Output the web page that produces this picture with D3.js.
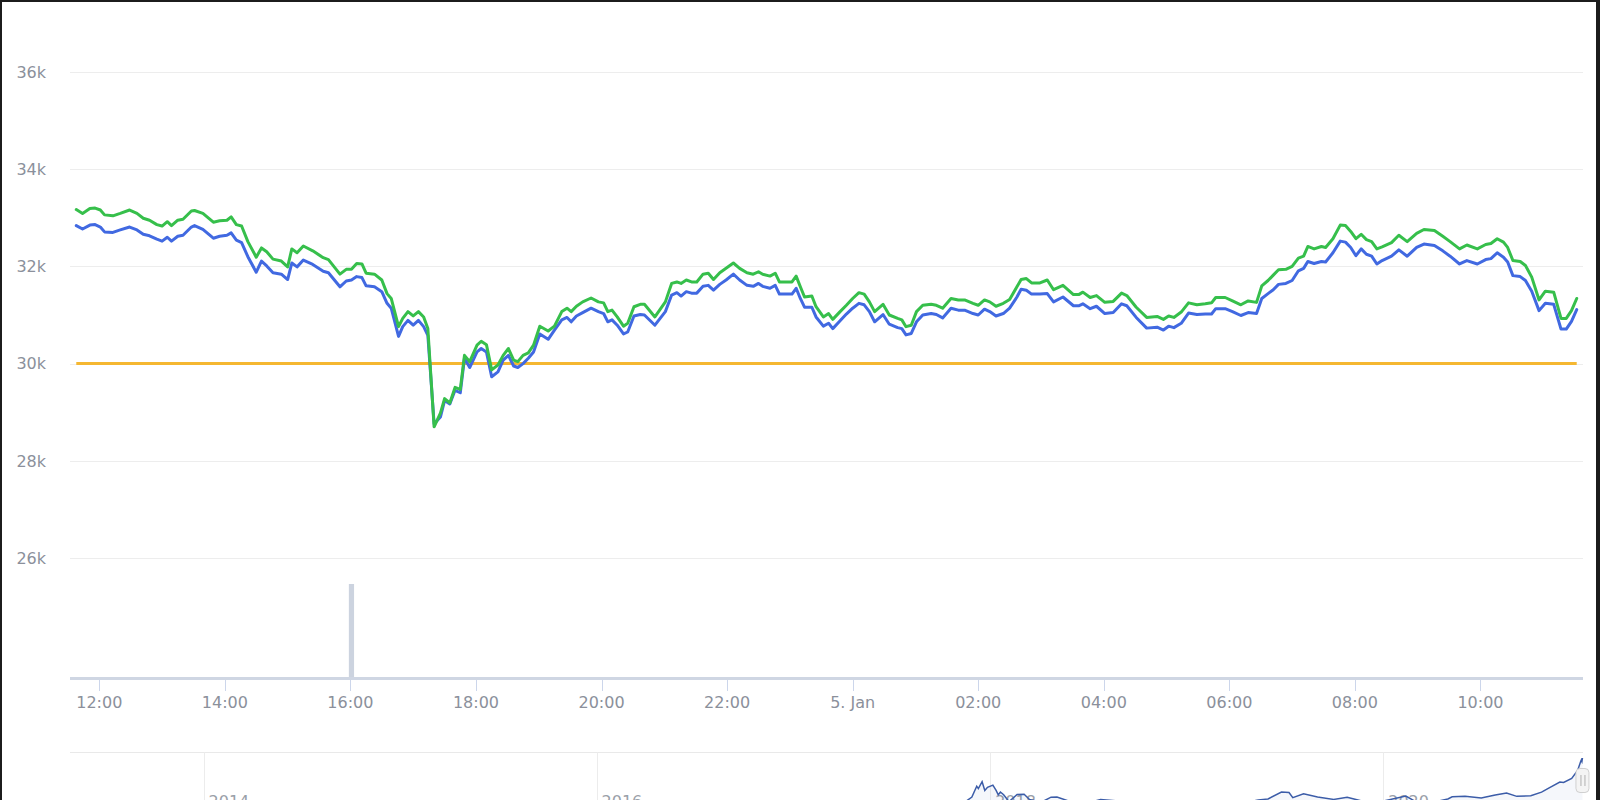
<!DOCTYPE html>
<html><head><meta charset="utf-8">
<script src="https://cdn.jsdelivr.net/npm/d3@7"></script>
<style>html,body{margin:0;padding:0;background:#1c1c1c;overflow:hidden}svg{display:block}</style>
</head><body><svg id="c" width="1600" height="800"></svg>
<script>
// ---- data ----
const times = [
"01-04 11:38","01-04 11:44","01-04 11:51","01-04 11:56","01-04 12:01","01-04 12:05","01-04 12:13","01-04 12:20","01-04 12:29","01-04 12:36",
"01-04 12:42","01-04 12:48","01-04 12:55","01-04 13:00","01-04 13:05","01-04 13:09","01-04 13:15","01-04 13:20","01-04 13:28","01-04 13:31",
"01-04 13:39","01-04 13:49","01-04 13:55","01-04 14:02","01-04 14:06","01-04 14:11","01-04 14:16","01-04 14:22","01-04 14:30","01-04 14:35",
"01-04 14:40","01-04 14:46","01-04 14:54","01-04 15:00","01-04 15:04","01-04 15:09","01-04 15:15","01-04 15:24","01-04 15:34","01-04 15:39",
"01-04 15:50","01-04 15:56","01-04 16:01","01-04 16:06","01-04 16:11","01-04 16:15","01-04 16:23","01-04 16:30","01-04 16:35","01-04 16:39",
"01-04 16:46","01-04 16:50","01-04 16:55","01-04 17:00","01-04 17:05","01-04 17:10","01-04 17:14","01-04 17:20","01-04 17:26","01-04 17:30",
"01-04 17:35","01-04 17:40","01-04 17:45","01-04 17:49","01-04 17:54","01-04 18:01","01-04 18:05","01-04 18:10","01-04 18:15","01-04 18:21",
"01-04 18:26","01-04 18:31","01-04 18:36","01-04 18:40","01-04 18:45","01-04 18:50","01-04 18:55","01-04 19:01","01-04 19:09","01-04 19:15",
"01-04 19:22","01-04 19:27","01-04 19:31","01-04 19:36","01-04 19:42","01-04 19:50","01-04 19:57","01-04 20:02","01-04 20:06","01-04 20:10",
"01-04 20:15","01-04 20:21","01-04 20:25","01-04 20:31","01-04 20:37","01-04 20:41","01-04 20:51","01-04 21:01","01-04 21:07","01-04 21:12",
"01-04 21:16","01-04 21:21","01-04 21:26","01-04 21:31","01-04 21:37","01-04 21:42","01-04 21:47","01-04 21:53","01-04 21:59","01-04 22:06",
"01-04 22:12","01-04 22:19","01-04 22:25","01-04 22:30","01-04 22:34","01-04 22:41","01-04 22:46","01-04 22:50","01-04 22:57","01-04 23:02",
"01-04 23:06","01-04 23:10","01-04 23:14","01-04 23:21","01-04 23:25","01-04 23:32","01-04 23:37","01-04 23:41","01-04 23:48","01-04 23:54",
"01-05 00:00","01-05 00:06","01-05 00:11","01-05 00:16","01-05 00:21","01-05 00:29","01-05 00:35","01-05 00:43","01-05 00:47","01-05 00:51",
"01-05 00:56","01-05 01:01","01-05 01:07","01-05 01:15","01-05 01:20","01-05 01:26","01-05 01:34","01-05 01:41","01-05 01:47","01-05 01:55",
"01-05 02:00","01-05 02:06","01-05 02:11","01-05 02:17","01-05 02:24","01-05 02:30","01-05 02:37","01-05 02:41","01-05 02:46","01-05 02:51",
"01-05 02:59","01-05 03:06","01-05 03:12","01-05 03:21","01-05 03:31","01-05 03:36","01-05 03:40","01-05 03:47","01-05 03:53","01-05 04:01",
"01-05 04:09","01-05 04:17","01-05 04:22","01-05 04:31","01-05 04:41","01-05 04:51","01-05 04:57","01-05 05:02","01-05 05:07","01-05 05:14",
"01-05 05:21","01-05 05:29","01-05 05:37","01-05 05:43","01-05 05:47","01-05 05:56","01-05 06:03","01-05 06:11","01-05 06:18","01-05 06:26",
"01-05 06:31","01-05 06:37","01-05 06:42","01-05 06:47","01-05 06:54","01-05 07:00","01-05 07:06","01-05 07:11","01-05 07:15","01-05 07:21",
"01-05 07:28","01-05 07:32","01-05 07:39","01-05 07:46","01-05 07:51","01-05 07:56","01-05 08:01","01-05 08:06","01-05 08:11","01-05 08:16",
"01-05 08:21","01-05 08:26","01-05 08:35","01-05 08:42","01-05 08:50","01-05 08:59","01-05 09:06","01-05 09:16","01-05 09:24","01-05 09:31",
"01-05 09:40","01-05 09:47","01-05 09:57","01-05 10:05","01-05 10:10","01-05 10:16","01-05 10:22","01-05 10:26","01-05 10:31","01-05 10:38",
"01-05 10:43","01-05 10:49","01-05 10:56","01-05 11:02","01-05 11:10","01-05 11:17","01-05 11:22","01-05 11:27","01-05 11:32"
];
const blueValues = [
32840,32770,32850,32860,32810,32710,32700,32750,32810,32750,
32660,32630,32560,32520,32600,32520,32620,32640,32810,32840,
32760,32580,32620,32640,32690,32540,32490,32200,31880,32110,
32010,31870,31840,31730,32070,31990,32130,32040,31900,31870,
31580,31700,31720,31790,31770,31600,31580,31480,31240,31140,
30560,30760,30890,30790,30890,30760,30580,28760,28900,29240,
29170,29450,29400,30110,29920,30240,30310,30240,29730,29830,
30070,30170,29950,29920,30000,30110,30240,30610,30500,30690,
30900,30950,30860,30980,31050,31140,31070,31030,30860,30900,
30790,30610,30650,30980,31010,31000,30790,31070,31410,31460,
31390,31480,31450,31450,31590,31610,31510,31630,31720,31840,
31720,31610,31590,31650,31590,31550,31610,31430,31430,31430,
31550,31340,31160,31160,30960,30770,30830,30720,30880,31020,
31140,31240,31210,31070,30860,31010,30810,30740,30720,30590,
30620,30860,31000,31030,31010,30940,31140,31100,31100,31030,
31000,31120,31070,30980,31030,31140,31370,31530,31510,31430,
31430,31440,31270,31370,31190,31190,31230,31130,31180,31030,
31050,31230,31190,30950,30730,30750,30690,30770,30740,30830,
31040,31010,31020,31020,31130,31130,31070,30990,31050,31030,
31340,31440,31520,31630,31650,31710,31910,31960,32100,32060,
32100,32090,32280,32520,32500,32390,32220,32360,32250,32210,
32050,32120,32210,32340,32210,32390,32460,32430,32320,32210,
32050,32120,32050,32140,32160,32280,32190,32090,31810,31790,
31710,31490,31090,31240,31220,30710,30710,30870,31110
];
const greenValues = [
33170,33090,33190,33200,33160,33060,33040,33090,33160,33090,
32990,32950,32860,32830,32920,32840,32950,32970,33140,33150,
33090,32910,32940,32950,33020,32860,32830,32510,32190,32380,
32300,32150,32110,31990,32360,32280,32420,32320,32180,32140,
31840,31940,31940,32060,32050,31860,31840,31720,31440,31340,
30760,30930,31070,30980,31070,30960,30720,28700,28980,29280,
29190,29510,29470,30170,30040,30380,30460,30390,29870,29970,
30170,30310,30070,30040,30170,30220,30380,30770,30670,30770,
31070,31140,31070,31180,31270,31350,31270,31250,31070,31100,
30960,30770,30830,31170,31220,31220,30960,31270,31650,31680,
31650,31720,31680,31680,31840,31860,31730,31870,31960,32070,
31960,31870,31840,31890,31840,31800,31860,31680,31680,31680,
31800,31580,31370,31390,31170,30960,31030,30910,31070,31200,
31340,31460,31430,31270,31070,31220,31000,30930,30900,30760,
30790,31070,31200,31220,31200,31140,31340,31310,31310,31240,
31200,31310,31270,31180,31240,31320,31580,31730,31750,31660,
31660,31720,31520,31610,31420,31420,31470,31360,31400,31260,
31280,31450,31400,31160,30950,30970,30910,30980,30950,31060,
31250,31210,31230,31250,31360,31360,31290,31210,31290,31260,
31600,31710,31820,31930,31940,32000,32170,32210,32410,32360,
32410,32390,32570,32850,32840,32720,32570,32660,32550,32510,
32360,32400,32490,32640,32510,32680,32760,32740,32620,32510,
32360,32440,32360,32450,32470,32570,32500,32390,32120,32100,
32020,31780,31310,31490,31470,30930,30930,31090,31340
];
const thresholdValue = 30000;
const volTimes = ["01-04 15:10", "01-04 16:01"];
const volValues = [2, 100];
const yTicks = [26000, 28000, 30000, 32000, 34000, 36000];
const yTickLabels = ["26k", "28k", "30k", "32k", "34k", "36k"];
const xTickTimes = ["01-04 12:00","01-04 14:00","01-04 16:00","01-04 18:00","01-04 20:00","01-04 22:00",
                    "01-05 00:00","01-05 02:00","01-05 04:00","01-05 06:00","01-05 08:00","01-05 10:00"];
const xTickLabels = ["12:00","14:00","16:00","18:00","20:00","22:00","5. Jan","02:00","04:00","06:00","08:00","10:00"];
const navDates = [
"2013-04-28","2013-07-01","2013-10-01","2013-11-30","2014-01-01","2014-03-01","2014-06-01","2014-09-01","2014-12-01","2015-01-15",
"2015-06-01","2015-11-04","2016-01-01","2016-06-15","2016-10-01","2017-01-01","2017-03-01","2017-05-01","2017-06-10","2017-07-15",
"2017-09-01","2017-09-15","2017-10-20","2017-11-12","2017-11-28","2017-12-07","2017-12-10","2017-12-17","2017-12-22","2017-12-27",
"2018-01-06","2018-01-12","2018-01-16","2018-01-20","2018-01-26","2018-02-05","2018-02-20","2018-03-05","2018-03-15","2018-04-06",
"2018-04-24","2018-05-05","2018-05-25","2018-06-28","2018-07-25","2018-09-01","2018-11-01","2018-12-15","2019-02-01","2019-04-02",
"2019-05-14","2019-06-01","2019-06-26","2019-07-10","2019-07-17","2019-08-06","2019-09-01","2019-10-01","2019-10-26","2019-11-25",
"2019-12-31","2020-02-12","2020-03-12","2020-04-30","2020-05-08","2020-06-01","2020-07-01","2020-07-27","2020-08-17","2020-09-05",
"2020-10-01","2020-10-21","2020-11-05","2020-11-24","2020-12-01","2020-12-16","2020-12-27","2021-01-02","2021-01-03","2021-01-04",
"2021-01-05"
];
const navValues = [
135,90,125,1100,770,560,630,480,380,210,
230,400,430,690,610,1000,1200,1400,2900,1900,
4900,3300,6000,5900,9800,16500,15000,19300,13800,15800,
17200,13900,11200,12900,11200,6900,11400,11500,8300,6600,
9700,9800,7500,5900,8200,7200,6400,3200,3500,4900,
8000,8600,12900,12600,9400,11800,9800,8300,9600,7100,
7200,10400,4900,8600,9900,10200,9200,11000,12300,10200,
10600,12800,15600,19100,18800,21300,26300,32100,32800,31900,
34000
];
const navYears = ["2014", "2016", "2018", "2020"];

// ---- chart ----
const parseT = d3.utcParse("%Y-%m-%d %H:%M");
const parseD = d3.utcParse("%Y-%m-%d");
const t = s => parseT("2021-" + s);

const svg = d3.select("#c");
svg.append("rect").attr("x", 2).attr("y", 2).attr("width", 1594).attr("height", 798).attr("fill", "#fff");

const left = 70, right = 1583;
const x = d3.scaleUtc().domain([t("01-04 11:32"), t("01-05 11:38")]).range([left, right]);
const y = d3.scaleLinear().domain([26000, 36000]).range([558, 72]);
const yVol = d3.scaleLinear().domain([0, 100]).range([679, 584]);

const font = "'DejaVu Sans', sans-serif";
const labelColor = "#8b909b";

// gridlines
svg.append("g").selectAll("line").data(yTicks).join("line")
  .attr("x1", left).attr("x2", right)
  .attr("y1", d => Math.round(y(d)) + 0.5).attr("y2", d => Math.round(y(d)) + 0.5)
  .attr("stroke", "#ededed").attr("stroke-width", 1);

// y labels
svg.append("g").selectAll("text").data(yTicks).join("text")
  .attr("x", 46).attr("y", d => y(d) + 5.8)
  .attr("text-anchor", "end")
  .attr("font-family", font).attr("font-size", 16).attr("fill", labelColor)
  .text((d, i) => yTickLabels[i]);

// volume columns
svg.append("g").selectAll("rect").data(volTimes.map((s, i) => ({ t: t(s), v: volValues[i] }))).join("rect")
  .attr("x", d => x(d.t) - 2.6).attr("width", 5.2)
  .attr("y", d => yVol(d.v)).attr("height", d => yVol(0) - yVol(d.v))
  .attr("fill", "#ccd3df");

// x axis band
svg.append("line").attr("x1", left).attr("x2", right).attr("y1", 678.5).attr("y2", 678.5)
  .attr("stroke", "#cfd6e3").attr("stroke-width", 3);

// x ticks + labels
const xt = xTickTimes.map(t);
svg.append("g").selectAll("line").data(xt).join("line")
  .attr("x1", d => Math.round(x(d)) + 0.5).attr("x2", d => Math.round(x(d)) + 0.5)
  .attr("y1", 680).attr("y2", 691)
  .attr("stroke", "#ccd6eb").attr("stroke-width", 1);
svg.append("g").selectAll("text").data(xt).join("text")
  .attr("x", d => x(d)).attr("y", 708)
  .attr("text-anchor", "middle")
  .attr("font-family", font).attr("font-size", 16).attr("fill", labelColor)
  .text((d, i) => xTickLabels[i]);

// series
const tt = times.map(t);
const blueData = tt.map((d, i) => ({ t: d, v: blueValues[i] }));
const greenData = tt.map((d, i) => ({ t: d, v: greenValues[i] }));
const threshData = [{ t: tt[0], v: thresholdValue }, { t: tt[tt.length - 1], v: thresholdValue }];
const line = d3.line().x(d => x(d.t)).y(d => y(d.v));

svg.append("path").datum(threshData).attr("d", line)
  .attr("fill", "none").attr("stroke", "#f5b731").attr("stroke-width", 3);
svg.append("path").datum(blueData).attr("d", line)
  .attr("fill", "none").attr("stroke", "#4169e1").attr("stroke-width", 3)
  .attr("stroke-linejoin", "round").attr("stroke-linecap", "round");
svg.append("path").datum(greenData).attr("d", line)
  .attr("fill", "none").attr("stroke", "#36bf4b").attr("stroke-width", 3)
  .attr("stroke-linejoin", "round").attr("stroke-linecap", "round");

// ---- navigator ----
const nx = d3.scaleUtc().domain([parseD("2013-04-28"), parseD("2021-01-06")]).range([left, right]);
const ny = d3.scaleLinear().domain([0, 34000]).range([812.8, 758]);
const navTop = 752.5;

svg.append("line").attr("x1", left).attr("x2", right).attr("y1", navTop).attr("y2", navTop)
  .attr("stroke", "#e9e9e9").attr("stroke-width", 1);
const yearDates = navYears.map(s => parseD(s + "-01-01"));
svg.append("g").selectAll("line").data(yearDates).join("line")
  .attr("x1", d => Math.round(nx(d)) + 0.5).attr("x2", d => Math.round(nx(d)) + 0.5)
  .attr("y1", navTop).attr("y2", 800)
  .attr("stroke", "#ececec").attr("stroke-width", 1);
svg.append("g").selectAll("text").data(yearDates).join("text")
  .attr("x", d => nx(d) + 5).attr("y", 807)
  .attr("font-family", font).attr("font-size", 16).attr("fill", "#9aa0a8")
  .text((d, i) => navYears[i]);

const navData = navDates.map((s, i) => ({ d: parseD(s), v: navValues[i] }));
svg.append("path").datum(navData)
  .attr("d", d3.area().x(d => nx(d.d)).y0(812.8).y1(d => ny(d.v)))
  .attr("fill", "rgba(51,92,173,0.05)");
svg.append("path").datum(navData)
  .attr("d", d3.line().x(d => nx(d.d)).y(d => ny(d.v)))
  .attr("fill", "none").attr("stroke", "#3b5ca8").attr("stroke-width", 1.5);

// handle
const hx = nx(navData[navData.length - 1].d);
svg.append("rect").attr("x", hx - 6.5).attr("y", 768.5).attr("width", 13).attr("height", 24).attr("rx", 4)
  .attr("fill", "#f4f4f4").attr("stroke", "#d0d0d0");
[-2, 2].forEach(o => svg.append("line").attr("x1", hx + o + 0.5).attr("x2", hx + o + 0.5)
  .attr("y1", 775).attr("y2", 786).attr("stroke", "#b0b0b0"));
</script>
</body></html>
